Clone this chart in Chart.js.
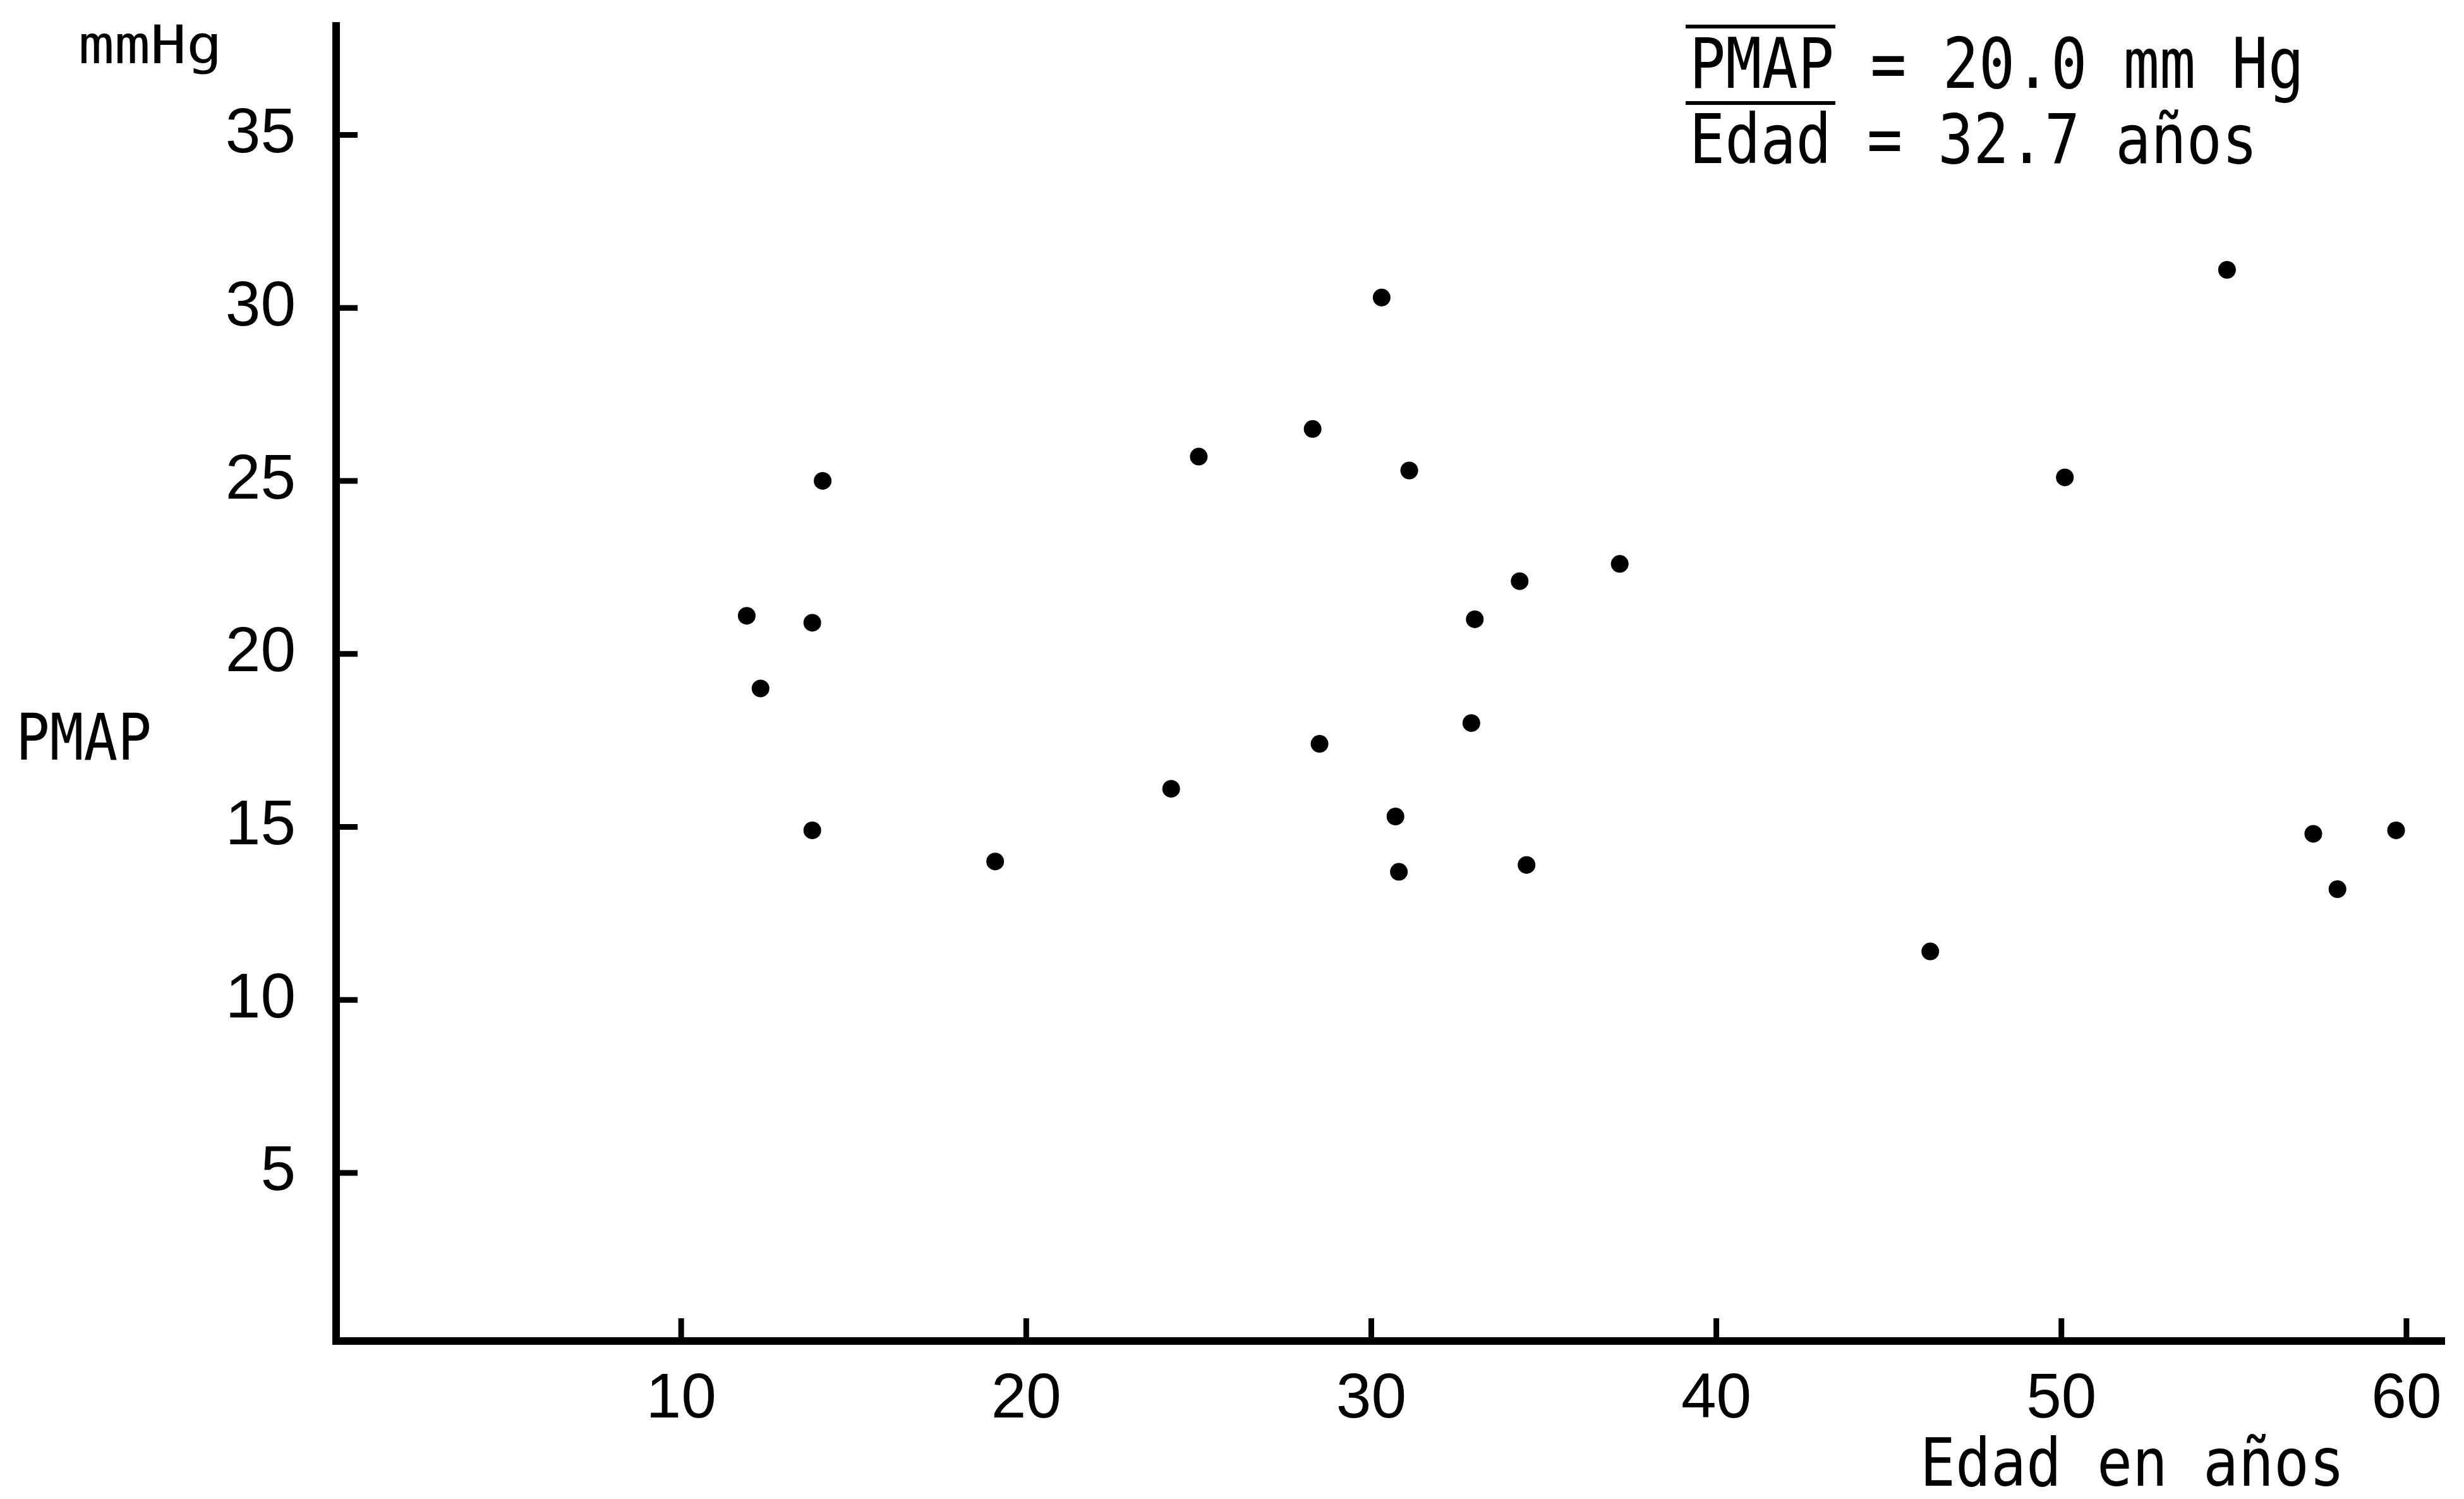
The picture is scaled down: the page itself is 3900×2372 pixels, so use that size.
<!DOCTYPE html>
<html>
<head>
<meta charset="utf-8">
<title>PMAP vs Edad</title>
<script src="https://cdn.jsdelivr.net/npm/chart.js@4.4.1/dist/chart.umd.min.js"></script>
<style>
    html, body { margin: 0; padding: 0; background: #fff; }
    #wrap { width: 3900px; height: 2372px; }
</style>
</head>
<body>
<div id="wrap"><canvas id="chart" width="3900" height="2372"></canvas></div>
<script>
// ============================================
// DATA
// ============================================

// Edad (años) de cada caso
const edades = [11.9, 12.3, 13.8, 14.1, 13.8, 19.1, 24.2, 25.0, 28.3, 28.5,
                30.3, 31.1, 30.7, 30.8, 33.0, 32.9, 34.3, 34.5, 37.2,
                46.2, 50.1, 54.8, 57.3, 58.0, 59.7];

// PMAP (mm Hg) de cada caso
const pmap = [21.1, 19.0, 20.9, 25.0, 14.9, 14.0, 16.1, 25.7, 26.5, 17.4,
              30.3, 25.3, 15.3, 13.7, 21.0, 18.0, 22.1, 13.9, 22.6,
              11.4, 25.1, 31.1, 14.8, 13.2, 14.9];

// Ticks
const xTicks = [10, 20, 30, 40, 50, 60];
const yTicks = [5, 10, 15, 20, 25, 30, 35];

// Medias
const mediaPMAP = '20.0';
const mediaEdad = '32.7';

const FONT_TEXT = '"DejaVu Sans Mono", monospace';

// Draw text squeezed horizontally to a given width, returns x scale used
function drawFitted(ctx, text, x, baseline, size, width, sx) {
    ctx.font = size + 'px ' + FONT_TEXT;
    const w = ctx.measureText(text).width;
    const scaleX = sx || width / w;
    ctx.save();
    ctx.translate(x, baseline);
    ctx.scale(scaleX, 1);
    ctx.fillText(text, 0, 0);
    ctx.restore();
    return scaleX;
}

// Short tick marks drawn inside the plot area
const tickMarks = {
    id: 'tickMarks',
    afterDraw(chart) {
        const { ctx, chartArea, scales } = chart;
        ctx.save();
        ctx.strokeStyle = '#000';
        ctx.lineWidth = 9;
        scales.x.ticks.forEach(t => {
            const px = scales.x.getPixelForValue(t.value);
            ctx.beginPath();
            ctx.moveTo(px, chartArea.bottom);
            ctx.lineTo(px, chartArea.bottom - 36);
            ctx.stroke();
        });
        scales.y.ticks.forEach(t => {
            const py = scales.y.getPixelForValue(t.value);
            ctx.beginPath();
            ctx.moveTo(chartArea.left, py);
            ctx.lineTo(chartArea.left + 34, py);
            ctx.stroke();
        });
        ctx.restore();
    }
};

// Axis names and the box with the means
const textos = {
    id: 'textos',
    afterDraw(chart) {
        const ctx = chart.ctx;
        ctx.save();
        ctx.fillStyle = '#000';
        ctx.textAlign = 'left';
        ctx.textBaseline = 'alphabetic';

        drawFitted(ctx, 'mmHg', 124, 100, 84, 228);
        drawFitted(ctx, 'PMAP', 25, 1202, 101, 215);
        drawFitted(ctx, 'Edad en años', 3039, 2351, 106, 672);

        // means
        const line1 = 'PMAP = ' + mediaPMAP + ' mm Hg';
        const line2 = 'Edad = ' + mediaEdad + ' años';
        const sx = drawFitted(ctx, line1, 2674, 139, 110, 973);
        drawFitted(ctx, line2, 2674, 258, 108, 0, sx);

        ctx.font = '110px ' + FONT_TEXT;
        const wBar = ctx.measureText('PMAP').width * sx;
        ctx.fillRect(2668, 39, wBar + 8, 6);
        ctx.fillRect(2668, 160, wBar + 8, 6);
        ctx.restore();
    }
};

const puntos = edades.map((x, i) => ({ x: x, y: pmap[i] }));

const chart = new Chart(document.getElementById('chart'), {
    type: 'scatter',
    data: {
        datasets: [{
            data: puntos,
            backgroundColor: '#000',
            borderWidth: 0,
            pointRadius: 14,
            pointHoverRadius: 14
        }]
    },
    options: {
        responsive: false,
        devicePixelRatio: 1,
        animation: false,
        layout: {
            padding: { top: 41, right: 31, left: 0, bottom: 0 }
        },
        plugins: {
            legend: { display: false },
            tooltip: { enabled: false }
        },
        scales: {
            x: {
                type: 'linear',
                min: 0,
                max: 61.1,
                afterBuildTicks: s => { s.ticks = xTicks.map(v => ({ value: v })); },
                afterFit: s => {
                    s.height = 250;
                    s.paddingLeft = 0;
                    s.paddingRight = 0;
                },
                grid: { display: false, drawTicks: false },
                border: { display: true, color: '#000', width: 12 },
                ticks: {
                    color: '#000',
                    font: { family: 'Liberation Sans', size: 100 },
                    padding: 33,
                    maxRotation: 0,
                    autoSkip: false
                }
            },
            y: {
                type: 'linear',
                min: 0.14,
                max: 38.15,
                afterBuildTicks: s => { s.ticks = yTicks.map(v => ({ value: v })); },
                afterFit: s => {
                    s.width = 532;
                    s.paddingTop = 0;
                    s.paddingBottom = 0;
                },
                grid: { display: false, drawTicks: false },
                border: { display: true, color: '#000', width: 12 },
                ticks: {
                    color: '#000',
                    font: { family: 'Liberation Sans', size: 100 },
                    padding: 64,
                    autoSkip: false
                }
            }
        }
    },
    plugins: [tickMarks, textos]
});
</script>
</body>
</html>
